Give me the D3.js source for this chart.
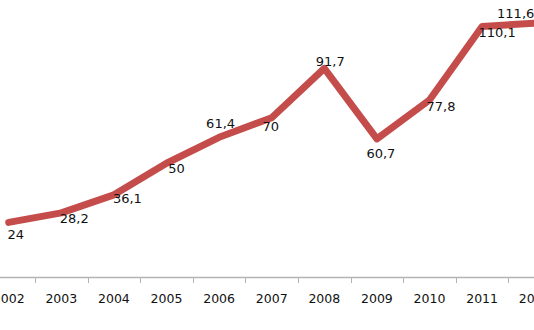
<!DOCTYPE html>
<html>
<head>
<meta charset="utf-8">
<script src="https://cdn.jsdelivr.net/npm/d3@7"></script>
<style>
  html, body { margin: 0; padding: 0; background: #fff; }
  svg { display: block; }
  text { font-family: "DejaVu Sans", Verdana, sans-serif; fill: #111; }
</style>
</head>
<body>
<svg id="chart" width="534" height="330"></svg>
<script>
// Yearly series
const years = ["2002", "2003", "2004", "2005", "2006", "2007", "2008", "2009", "2010", "2011", "2012"];
const values = [24, 28.2, 36.1, 50, 61.4, 70, 91.7, 60.7, 77.8, 110.1, 111.6];
const valueLabels = ["24", "28,2", "36,1", "50", "61,4", "70", "91,7", "60,7", "77,8", "110,1", "111,6"];

// Label offsets from each point (text centre, px)
const labelOffsets = [[7, 12], [13, 5], [13.5, 3], [10, 5], [1.5, -14], [-1, 9], [6, -7], [4, 14], [11.5, 6], [15, 6], [-19, -10]];

const svg = d3.select("#chart");
const bandStart = -17.6, bandEnd = 561;
const x = d3.scaleBand().domain(years).range([bandStart, bandEnd]).padding(0);
const y = d3.scaleLinear().domain([0, 120]).range([277, 4]);

// Category axis with ticks on band boundaries
const axisY = y(0);
svg.append("line")
  .attr("x1", 0).attr("x2", 534)
  .attr("y1", axisY + 0.5).attr("y2", axisY + 0.5)
  .attr("stroke", "#b3b3b3").attr("stroke-width", 1.5);

svg.append("g").selectAll("line")
  .data(years.slice(1))
  .join("line")
  .attr("x1", d => Math.round(x(d)) + 0.5)
  .attr("x2", d => Math.round(x(d)) + 0.5)
  .attr("y1", axisY)
  .attr("y2", axisY + 6)
  .attr("stroke", "#b3b3b3").attr("stroke-width", 1);

svg.append("g").selectAll("text")
  .data(years)
  .join("text")
  .attr("x", d => x(d) + x.bandwidth() / 2)
  .attr("y", 302.5)
  .attr("text-anchor", "middle")
  .attr("font-size", 12.5)
  .text(d => d);

// Series line
const cx = d => x(d) + x.bandwidth() / 2;
const line = d3.line()
  .x((d, i) => cx(years[i]))
  .y(d => y(d));

svg.append("path")
  .datum(values)
  .attr("d", line)
  .attr("fill", "none")
  .attr("stroke", "#c44d4b")
  .attr("stroke-width", 7)
  .attr("stroke-linejoin", "round")
  .attr("stroke-linecap", "round");

// Value labels
svg.append("g").selectAll("text")
  .data(values)
  .join("text")
  .attr("x", (d, i) => cx(years[i]) + labelOffsets[i][0])
  .attr("y", (d, i) => y(d) + labelOffsets[i][1])
  .attr("dy", "0.36em")
  .attr("text-anchor", "middle")
  .attr("font-size", 13)
  .text((d, i) => valueLabels[i]);
</script>
</body>
</html>
